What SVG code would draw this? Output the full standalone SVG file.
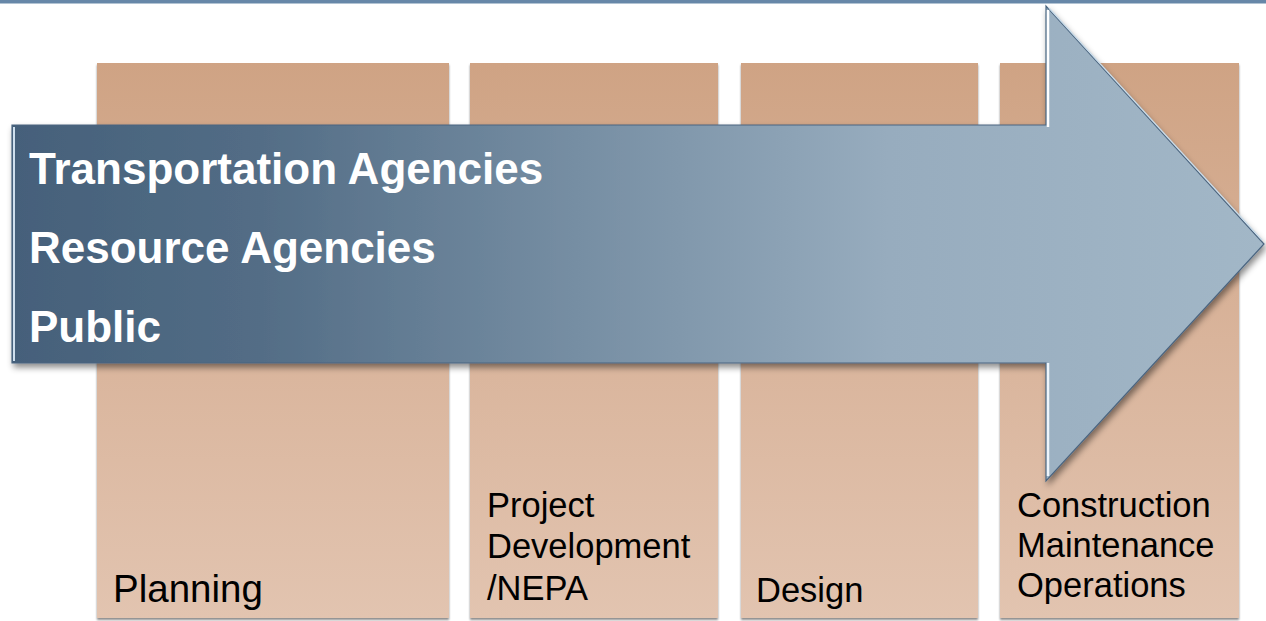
<svg xmlns="http://www.w3.org/2000/svg" width="1266" height="621" viewBox="0 0 1266 621">
  <defs>
    <linearGradient id="colGrad" x1="0" y1="0" x2="0" y2="1">
      <stop offset="0" stop-color="#cfa384"/>
      <stop offset="0.5" stop-color="#d9b49b"/>
      <stop offset="1" stop-color="#e2c4b0"/>
    </linearGradient>
    <linearGradient id="arrowGrad" x1="12" y1="0" x2="1264" y2="0" gradientUnits="userSpaceOnUse">
      <stop offset="0" stop-color="#45607a"/>
      <stop offset="0.2" stop-color="#536d86"/>
      <stop offset="0.45" stop-color="#768ea3"/>
      <stop offset="0.7" stop-color="#97acbe"/>
      <stop offset="1" stop-color="#a2b7c7"/>
    </linearGradient>
    <filter id="colShadow" x="-5%" y="-5%" width="110%" height="110%">
      <feDropShadow dx="0" dy="2" stdDeviation="1.2" flood-color="#000" flood-opacity="0.45"/>
    </filter>
    <filter id="arrowShadow" x="-5%" y="-5%" width="110%" height="115%">
      <feDropShadow dx="2" dy="4" stdDeviation="3" flood-color="#000" flood-opacity="0.45"/>
    </filter>
  </defs>
  <style>
    .col { fill: url(#colGrad); filter: url(#colShadow); }
    .head { font-family: "Liberation Sans", Arial, sans-serif; font-weight: bold; font-size: 44px; fill: #ffffff; }
    .lbl { font-family: "Liberation Sans", Arial, sans-serif; font-size: 34.5px; fill: #000000; }
  </style>
  <rect id="topbar" x="0" y="0" width="1266" height="3.5" fill="#6787a8"/>

  <g id="col-planning">
    <rect class="col" x="97" y="63" width="352" height="555"/>
    <text class="lbl" x="113" y="602" style="font-size:38.5px">Planning</text>
  </g>
  <g id="col-project">
    <rect class="col" x="470" y="63" width="248" height="555"/>
    <text class="lbl" x="487" y="517">Project</text>
    <text class="lbl" x="487" y="558">Development</text>
    <text class="lbl" x="487" y="600">/NEPA</text>
  </g>
  <g id="col-design">
    <rect class="col" x="741" y="63" width="237" height="555"/>
    <text class="lbl" x="756" y="602">Design</text>
  </g>
  <g id="col-construction">
    <rect class="col" x="1000" y="63" width="239" height="555"/>
  </g>

  <g id="arrow">
    <path d="M12,125 L1046,125 L1046,6 L1264,244 L1046,481 L1046,363 L12,363 Z" fill="url(#arrowGrad)" stroke="#4a6580" stroke-width="1.2" filter="url(#arrowShadow)"/>
    <path d="M14,127 L14,361" stroke="#cfe0ee" stroke-width="2" fill="none"/>
    <path d="M1048,10 L1048,127" stroke="#ffffff" stroke-width="2.5" fill="none"/>
    <path d="M1048,363 L1048,476" stroke="#eef5fb" stroke-width="2.5" fill="none"/>
    <path d="M1049,8 L1262,240" stroke="#c9dcea" stroke-width="1.2" fill="none"/>
    <text class="head" x="29" y="184">Transportation Agencies</text>
    <text class="head" x="29" y="263">Resource Agencies</text>
    <text class="head" x="29" y="342">Public</text>
  </g>

  <g id="label-construction">
    <text class="lbl" x="1017" y="517">Construction</text>
    <text class="lbl" x="1017" y="557">Maintenance</text>
    <text class="lbl" x="1017" y="597">Operations</text>
  </g>
</svg>
